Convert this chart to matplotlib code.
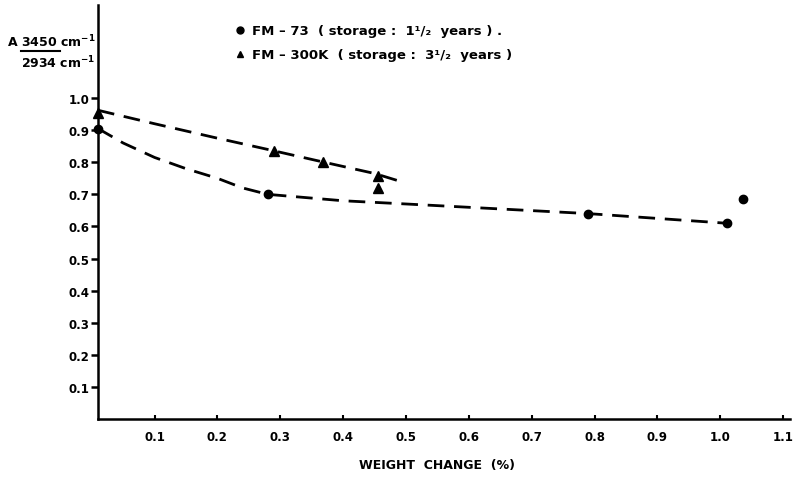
import numpy as np
import matplotlib
matplotlib.use("Agg")
from matplotlib import pyplot as plt
from matplotlib.lines import Line2D

# FM-73 measured points
fm73_x = [0.01, 0.28, 0.79, 1.01, 1.037]
fm73_y = [0.905, 0.70, 0.638, 0.61, 0.684]
# FM-300K measured points
fm300_x = [0.01, 0.29, 0.368, 0.456, 0.456]
fm300_y = [0.952, 0.835, 0.80, 0.757, 0.72]

# hand-drawn dashed trend curves
curve73_x = [0.01, 0.05, 0.1, 0.15, 0.2, 0.24, 0.28, 0.4, 0.5, 0.79, 1.01]
curve73_y = [0.905, 0.86, 0.815, 0.78, 0.75, 0.72, 0.70, 0.68, 0.67, 0.64, 0.61]
curve300_x = [0.01, 0.1, 0.2, 0.28, 0.37, 0.45, 0.5]
curve300_y = [0.962, 0.92, 0.875, 0.84, 0.80, 0.765, 0.735]

xticks = [0.1, 0.2, 0.3, 0.4, 0.5, 0.6, 0.7, 0.8, 0.9, 1.0, 1.1]
xticklabels = ["0.1", "0.2", "0.3", "0.4", "0.5", "0.6", "0.7", "0.8", "0.9", "1.0", "1.1"]
yticks = [0.1, 0.2, 0.3, 0.4, 0.5, 0.6, 0.7, 0.8, 0.9, 1.0]
yticklabels = ["0.1", "0.2", "0.3", "0.4", "0.5", "0.6", "0.7", "0.8", "0.9", "1.0"]

plt.rcParams["font.family"] = ["DejaVu Sans"]
plt.rcParams["font.weight"] = "bold"

fig = plt.figure(figsize=(7.95, 4.81), dpi=100)
ax = fig.add_axes([98 / 795, 1 - 420 / 481, (790 - 98) / 795, (420 - 6) / 481])

dash = (0, (6, 3.5))
ax.plot(curve73_x, curve73_y, color="black", lw=2, linestyle=dash)
ax.plot(curve300_x, curve300_y, color="black", lw=2, linestyle=dash)
ax.plot(fm73_x, fm73_y, "o", color="black", ms=6, clip_on=False)
ax.plot(fm300_x, fm300_y, "^", color="black", ms=7, clip_on=False)

ax.set_xlim(0.01, 1.111)
ax.set_ylim(0, 1.29)
ax.set_xticks(xticks)
ax.set_xticklabels(xticklabels, fontsize=8.5, fontweight="bold")
ax.set_yticks(yticks)
ax.set_yticklabels(yticklabels, fontsize=8.5, fontweight="bold")
ax.tick_params(axis="y", direction="out", length=5, width=1.8, pad=1)
ax.tick_params(axis="x", direction="in", length=3, width=1.5, pad=8)
for s in ["top", "right"]:
    ax.spines[s].set_visible(False)
for s in ["left", "bottom"]:
    ax.spines[s].set_linewidth(1.8)

ax.set_xlabel("WEIGHT  CHANGE  (%)", fontsize=9, fontweight="bold")
ax.xaxis.set_label_coords(0.49, -0.095)

# y axis label as a fraction at top-left
fig.text(8 / 795, 1 - 42 / 481, "A", fontsize=9, fontweight="bold", va="center")
fig.text(21 / 795, 1 - 42 / 481, "3450 cm$^{-1}$", fontsize=9, fontweight="bold", va="center")
fig.text(21 / 795, 1 - 63 / 481, "2934 cm$^{-1}$", fontsize=9, fontweight="bold", va="center")
fig.add_artist(Line2D([21 / 795, 60 / 795], [1 - 52 / 481, 1 - 52 / 481],
                      color="black", lw=1.5, transform=fig.transFigure))

# legend
fig.add_artist(Line2D([240 / 795], [1 - 31 / 481], marker="o", ms=5, color="black",
                      transform=fig.transFigure))
fig.text(252 / 795, 1 - 31 / 481, "FM – 73  ( storage :  1¹/₂  years ) .", fontsize=9.5,
         fontweight="bold", va="center")
fig.add_artist(Line2D([240 / 795], [1 - 55 / 481], marker="^", ms=5, color="black",
                      transform=fig.transFigure))
fig.text(252 / 795, 1 - 55 / 481, "FM – 300K  ( storage :  3¹/₂  years )", fontsize=9.5,
         fontweight="bold", va="center")

fig.savefig("out.png", dpi=100)
